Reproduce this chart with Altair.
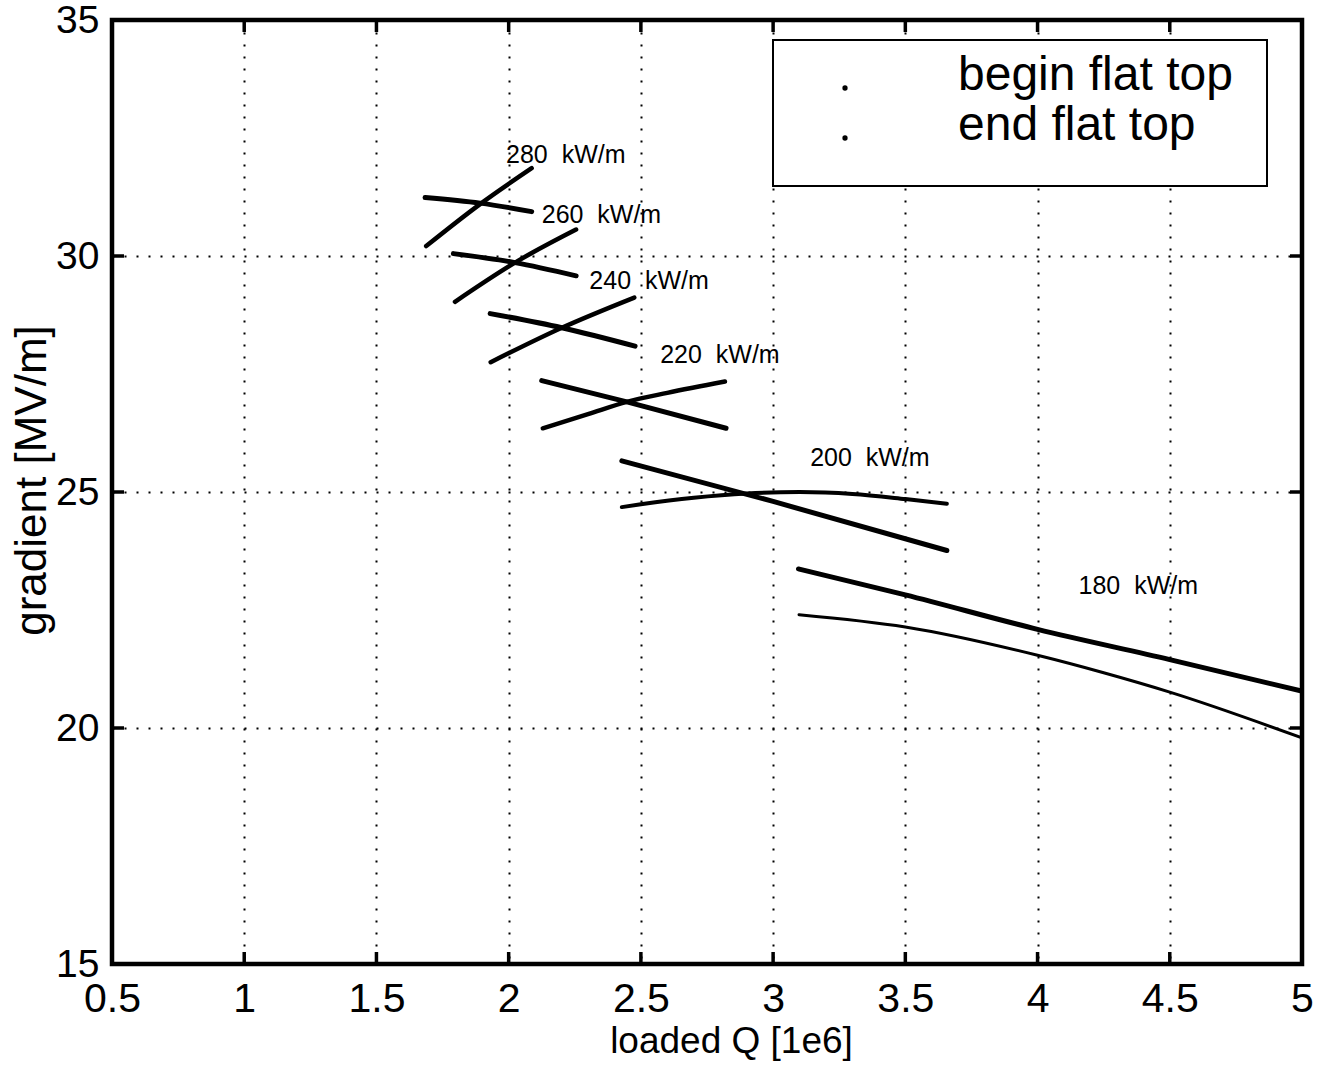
import altair as alt
import pandas as pd

# ---- data: loaded Q [1e6] and gradient [MV/m] along each curve ----
powers = [280, 260, 240, 220, 200, 180]

q_280_begin = [1.684, 1.892, 2.087]
g_280_begin = [31.24, 31.12, 30.94]
q_280_end = [1.688, 1.892, 2.087]
g_280_end = [30.21, 31.10, 31.86]

q_260_begin = [1.791, 2.024, 2.255]
g_260_begin = [30.05, 29.86, 29.58]
q_260_end = [1.797, 2.024, 2.255]
g_260_end = [29.03, 29.86, 30.56]

q_240_begin = [1.930, 2.201, 2.478]
g_240_begin = [28.78, 28.48, 28.09]
q_240_end = [1.932, 2.201, 2.475]
g_240_end = [27.75, 28.48, 29.12]

q_220_begin = [2.125, 2.447, 2.822]
g_220_begin = [27.36, 26.91, 26.35]
q_220_end = [2.129, 2.300, 2.447, 2.600, 2.818]
g_220_end = [26.35, 26.65, 26.91, 27.10, 27.34]

q_200_begin = [2.428, 3.000, 3.657]
g_200_begin = [25.66, 24.80, 23.76]
q_200_end = [2.428, 2.500, 2.700, 2.900, 3.100, 3.300, 3.500, 3.657]
g_200_end = [24.68, 24.74, 24.88, 24.97, 25.00, 24.96, 24.85, 24.75]

q_180_begin = [3.096, 3.500, 4.000, 4.500, 5.000]
g_180_begin = [23.37, 22.82, 22.09, 21.45, 20.78]
q_180_end = [3.098, 3.500, 4.000, 4.250, 4.500, 5.000]
g_180_end = [22.40, 22.14, 21.54, 21.17, 20.76, 19.79]

# curve annotations (non-breaking space keeps the wide gap)
power_labels = ["280\u00a0 kW/m", "260\u00a0 kW/m", "240\u00a0 kW/m",
                "220\u00a0 kW/m", "200\u00a0 kW/m", "180\u00a0 kW/m"]
label_q = [1.990, 2.125, 2.305, 2.573, 3.140, 4.155]
label_g = [32.14, 30.87, 29.48, 27.91, 25.72, 23.00]

legend_labels = ["begin flat top", "end flat top"]

x_ticks = [0.5, 1, 1.5, 2, 2.5, 3, 3.5, 4, 4.5, 5]
y_ticks = [15, 20, 25, 30, 35]

# ---- styling ----
W, H = 1190, 944
FONT = "Liberation Sans, Arial, sans-serif"
BEGIN_WIDTH = 5
END_WIDTH = {280: 4.5, 260: 4.5, 240: 4.5, 220: 4.5, 200: 4, 180: 3}

series = {
    280: (q_280_begin, g_280_begin, q_280_end, g_280_end),
    260: (q_260_begin, g_260_begin, q_260_end, g_260_end),
    240: (q_240_begin, g_240_begin, q_240_end, g_240_end),
    220: (q_220_begin, g_220_begin, q_220_end, g_220_end),
    200: (q_200_begin, g_200_begin, q_200_end, g_200_end),
    180: (q_180_begin, g_180_begin, q_180_end, g_180_end),
}

rows = []
for p in powers:
    qb, gb, qe, ge = series[p]
    for i, (q, g) in enumerate(zip(qb, gb)):
        rows.append({"curve": f"{p} begin", "q": q, "g": g, "i": i, "w": BEGIN_WIDTH})
    for i, (q, g) in enumerate(zip(qe, ge)):
        rows.append({"curve": f"{p} end", "q": q, "g": g, "i": i, "w": END_WIDTH[p]})
df = pd.DataFrame(rows)

x_scale = alt.Scale(domain=[0.5, 5], nice=False, zero=False)
y_scale = alt.Scale(domain=[15, 35], nice=False, zero=False)

x_axis = alt.Axis(
    values=x_ticks, format="~g", grid=True, gridColor="black", gridDash=[2, 10],
    gridWidth=2, gridOpacity=1, domain=False, ticks=False,
    labelFont=FONT, labelFontSize=41, labelColor="black", labelPadding=15,
    labelFlush=False, labelOverlap=False,
    title="loaded Q [1e6]", titleFont=FONT, titleFontSize=37, titleFontWeight="normal",
    titleColor="black", titleX=619, titleY=88, titleAlign="center", titleBaseline="alphabetic",
)
y_axis = alt.Axis(
    values=y_ticks, format="~g", grid=True, gridColor="black", gridDash=[2, 10],
    gridWidth=2, gridOpacity=1, domain=False, ticks=False,
    labelFont=FONT, labelFontSize=39, labelColor="black", labelPadding=13,
    labelFlush=False, labelOverlap=False,
    title="gradient [MV/m]", titleFont=FONT, titleFontSize=44, titleFontWeight="normal",
    titleColor="black", titleAngle=270, titleX=-67, titleY=460, titleAlign="center",
    titleBaseline="alphabetic",
)

X = alt.X("q:Q", scale=x_scale, axis=x_axis)
Y = alt.Y("g:Q", scale=y_scale, axis=y_axis)

lines = alt.Chart(df).mark_line(color="black", strokeCap="round", clip=True, interpolate="monotone").encode(
    x=X, y=Y,
    detail="curve:N",
    order="i:Q",
    strokeWidth=alt.StrokeWidth("w:Q", scale=None),
)

lab_df = pd.DataFrame({"label": power_labels, "q": label_q, "g": label_g})
labels = alt.Chart(lab_df).mark_text(
    align="left", baseline="middle", font=FONT, fontSize=25, color="black"
).encode(x=X, y=Y, text="label:N")

# inward tick marks on all four sides
xt = pd.DataFrame({"q": x_ticks})
yt = pd.DataFrame({"g": y_ticks})
TL = 12
tick_bottom = alt.Chart(xt).mark_rule(color="black", strokeWidth=3.5).encode(
    x=X, y=alt.value(H), y2=alt.value(H - TL))
tick_top = alt.Chart(xt).mark_rule(color="black", strokeWidth=3.5).encode(
    x=X, y=alt.value(0), y2=alt.value(TL))
tick_left = alt.Chart(yt).mark_rule(color="black", strokeWidth=3.5).encode(
    y=Y, x=alt.value(0), x2=alt.value(TL))
tick_right = alt.Chart(yt).mark_rule(color="black", strokeWidth=3.5).encode(
    y=Y, x=alt.value(W), x2=alt.value(W - TL))

# legend box
leg_df = pd.DataFrame({"label": legend_labels})
legend_box = alt.Chart(leg_df.head(1)).mark_rect(
    fill="white", stroke="black", strokeWidth=2
).encode(x=alt.value(661), x2=alt.value(1155), y=alt.value(20), y2=alt.value(166))

legend_layers = [legend_box]
for i, lbl in enumerate(legend_labels):
    d = pd.DataFrame({"label": [lbl]})
    yy = 68 + 50 * i
    legend_layers.append(
        alt.Chart(d).mark_point(filled=True, color="black", size=28, opacity=1).encode(
            x=alt.value(733), y=alt.value(yy))
    )
    legend_layers.append(
        alt.Chart(d).mark_text(align="left", baseline="alphabetic", font=FONT,
                               fontSize=48, color="black").encode(
            x=alt.value(846), y=alt.value(yy + 2), text="label:N")
    )

chart = alt.layer(
    lines, labels, tick_bottom, tick_top, tick_left, tick_right, *legend_layers
).properties(
    width=W, height=H,
    autosize=alt.AutoSizeParams(type="none"),
    padding={"left": 112, "top": 20, "right": 25, "bottom": 102},
    background="white",
).configure_view(
    stroke="black", strokeWidth=4.5
)

chart.save("out.html", embed_options={"renderer": "svg", "actions": False})
